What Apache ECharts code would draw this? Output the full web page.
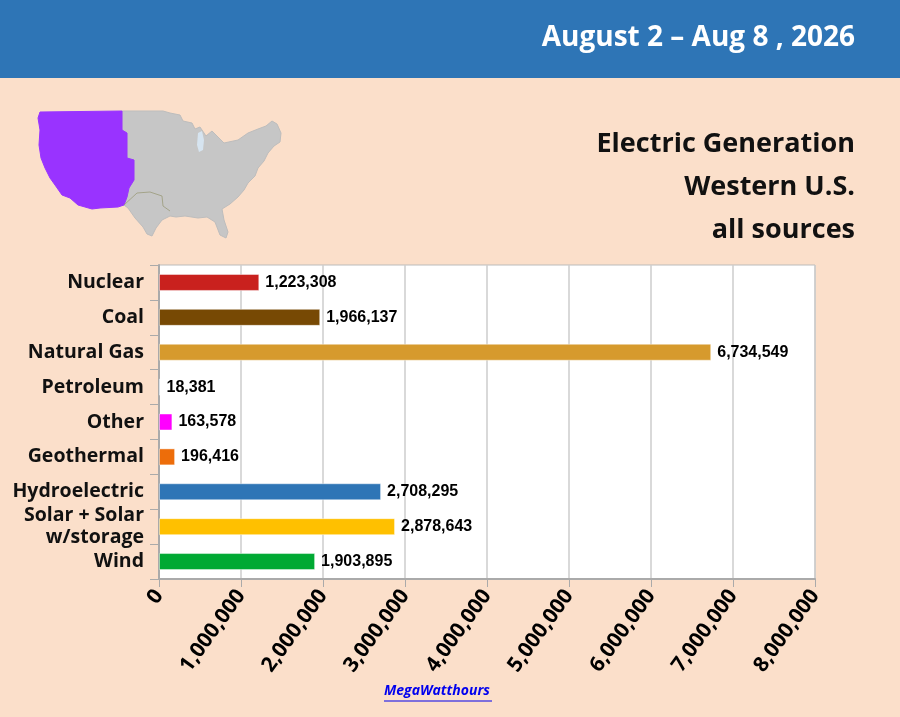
<!DOCTYPE html>
<html>
<head>
<meta charset="utf-8">
<script src="https://cdn.jsdelivr.net/npm/echarts@6/dist/echarts.min.js"></script>
<style>
  html, body { margin: 0; padding: 0; background: #FBDFCA; }
  #chart { width: 900px; height: 717px; }
</style>
</head>
<body>
<div id="chart"></div>
<script>
// 数据
var categories = ['Nuclear', 'Coal', 'Natural Gas', 'Petroleum', 'Other', 'Geothermal', 'Hydroelectric', 'Solar + Solar\nw/storage', 'Wind'];
var values = [1223308, 1966137, 6734549, 18381, 163578, 196416, 2708295, 2878643, 1903895];
var barColors = ['#C9211E', '#774904', '#D69A2D', '#9DC3E6', '#FF00FF', '#ED6D0A', '#2E75B6', '#FFC000', '#00A933'];
var xTicks = [0, 1000000, 2000000, 3000000, 4000000, 5000000, 6000000, 7000000, 8000000];

var labelFont = '"Open Sans", Lato, sans-serif';

function fmt(v) {
    return String(v).replace(/\B(?=(\d{3})+(?!\d))/g, ',');
}

// 地图 (装饰用)
var westShape = [[40,112],[122,111],[122,130],[127,133],[127,158],[134,160],[134,180],[129,188],[127,197],[124,205],[118,207],[100,208],[92,209],[78,205],[70,198],[62,195],[55,185],[50,178],[45,168],[41,158],[39,145],[40,130],[38,118]];
var eastShape = [[122,111],[163,111],[170,113],[180,115],[183,121],[192,123],[195,129],[200,127],[206,136],[212,131],[218,137],[224,143],[238,140],[248,133],[258,129],[266,126],[272,121],[277,124],[281,133],[280,142],[274,146],[268,153],[264,161],[258,168],[255,176],[248,183],[244,190],[238,197],[230,204],[222,209],[224,220],[228,232],[226,238],[220,235],[215,222],[207,217],[198,218],[185,216],[176,217],[170,216],[162,220],[156,228],[152,236],[147,234],[143,227],[135,218],[128,208],[124,205],[127,197],[129,188],[134,180],[134,160],[127,158],[127,133],[122,130]];
var lakeShape = [[198,133],[202,131],[204,140],[203,150],[199,152],[197,145]];

var chart = echarts.init(document.getElementById('chart'));
var option = {
    backgroundColor: '#FBDFCA',
    animation: false,
    grid: {
        left: 159,
        right: 85,
        top: 265,
        bottom: 138,
        show: true,
        backgroundColor: '#FFFFFF',
        borderColor: '#BBBBBB',
        borderWidth: 1
    },
    graphic: [
        { type: 'rect', shape: { x: 0, y: 0, width: 900, height: 78 }, style: { fill: '#2E75B6' } },
        { type: 'text', right: 45, top: 24, style: { text: 'August 2 – Aug 8 , 2026', fill: '#FFFFFF', font: 'bold 28px ' + labelFont, textAlign: 'right' } },
        { type: 'text', right: 45, top: 131, style: { text: 'Electric Generation', fill: '#111111', font: 'bold 27px ' + labelFont, textAlign: 'right' } },
        { type: 'text', right: 45, top: 174, style: { text: 'Western U.S.', fill: '#111111', font: 'bold 27px ' + labelFont, textAlign: 'right' } },
        { type: 'text', right: 45, top: 217, style: { text: 'all sources', fill: '#111111', font: 'bold 27px ' + labelFont, textAlign: 'right' } },
        { type: 'polygon', shape: { points: eastShape }, style: { fill: '#C6C6C6', stroke: '#BDBDBD', lineWidth: 1 } },
        { type: 'polygon', shape: { points: westShape }, style: { fill: '#9933FF', stroke: '#9933FF', lineWidth: 1 } },
        { type: 'polygon', shape: { points: lakeShape }, style: { fill: '#D6E4F0' } },
        { type: 'polyline', shape: { points: [[124,205],[137,193],[150,192],[162,196],[163,206],[170,211]] }, style: { stroke: '#9B9B7A', lineWidth: 0.8, fill: null } },
        { type: 'text', left: 384, top: 684, style: { text: 'MegaWatthours', fill: '#0000EE', font: 'italic bold 14px ' + labelFont } },
        { type: 'line', shape: { x1: 384, y1: 701, x2: 492, y2: 701 }, style: { stroke: '#0000EE', lineWidth: 1 } }
    ],
    xAxis: {
        type: 'value',
        min: 0,
        max: 8000000,
        interval: 1000000,
        axisLine: { show: true, lineStyle: { color: '#AAAAAA', width: 2 } },
        axisTick: { show: true, length: 8, lineStyle: { color: '#AAAAAA' } },
        splitLine: { show: true, lineStyle: { color: '#CCCCCC', width: 1.5 } },
        axisLabel: {
            rotate: 54,
            margin: 13,
            color: '#000000',
            fontFamily: labelFont,
            fontWeight: 'bold',
            fontSize: 21,
            formatter: function(v) {
                return xTicks.indexOf(v) >= 0 ? fmt(v) : '';
            }
        }
    },
    yAxis: {
        type: 'category',
        inverse: true,
        data: categories,
        axisLine: { show: true, lineStyle: { color: '#AAAAAA', width: 2 } },
        axisTick: { show: true, length: 9, lineStyle: { color: '#AAAAAA' } },
        axisLabel: {
            margin: 15,
            color: '#111111',
            fontFamily: labelFont,
            fontWeight: 'bold',
            fontSize: 19.5,
            lineHeight: 22
        }
    },
    series: [{
        type: 'bar',
        data: values.map(function(v, i) {
            return {
                value: v,
                itemStyle: { color: barColors[i], borderColor: 'rgba(255,255,255,0.45)', borderWidth: 1 }
            };
        }),
        barWidth: 17,
        label: {
            show: true,
            position: 'right',
            distance: 6,
            color: '#000000',
            fontFamily: '"Liberation Sans", Arial, sans-serif',
            fontWeight: 'bold',
            fontSize: 16,
            formatter: function(p) {
                return fmt(p.value);
            }
        }
    }]
};
chart.setOption(option);
</script>
</body>
</html>
